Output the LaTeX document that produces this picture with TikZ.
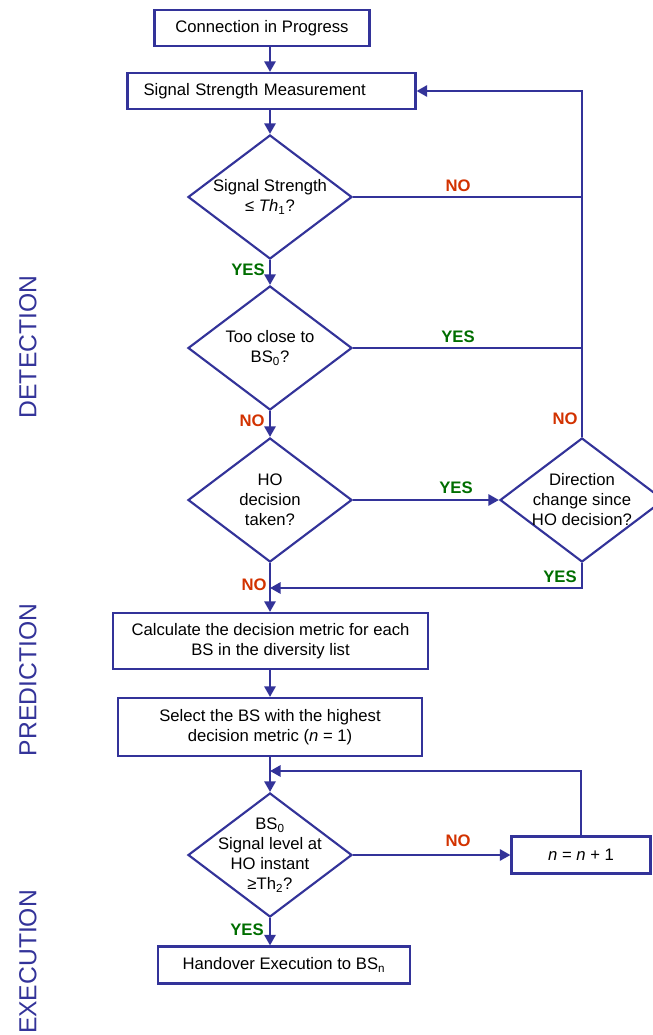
\documentclass[tikz,border=0pt]{standalone}
\usepackage{fontspec}
\setmainfont{Liberation Sans}
\usetikzlibrary{shapes.geometric,arrows.meta}
\definecolor{fblue}{RGB}{51,51,153}
\definecolor{fgreen}{RGB}{0,110,0}
\definecolor{fred}{RGB}{210,50,0}
\begin{document}
\begin{tikzpicture}[x=0.75pt,y=-0.75pt,
        font=\fontsize{12.5}{15}\selectfont,
        line/.style={draw=fblue, line width=1.7pt},
        arr/.style={line, -{Triangle[length=8pt,width=8.5pt]}},
        box/.style={draw=fblue, line width=1.6pt, align=center, inner sep=0pt, minimum height=27pt},
        decision/.style={draw=fblue, line width=1.6pt, diamond, inner sep=0pt, minimum width=123pt, minimum height=93pt},
        dtext/.style={align=center, inner sep=0pt},
        yes/.style={text=fgreen, font=\fontsize{12.5}{15}\selectfont\bfseries},
        no/.style={text=fred, font=\fontsize{12.5}{15}\selectfont\bfseries},
        phase/.style={text=fblue, rotate=90, font=\fontsize{18.5}{20}\selectfont}]
        \useasboundingbox (0,0) rectangle (653,1035);

        \coordinate (col) at (270,0); % main column
        \coordinate (rx) at (582,0); % return line on the right

        % detection
        \node[box, minimum width=161.25pt] (conn) at (262,28) {Connection in Progress};
        \node[box, minimum width=216pt, text width=192pt, inner xsep=12pt, align=left] (meas) at (271.5,91) {Signal Strength Measurement};
        \node[decision, label={[dtext]center:{Signal Strength\\≤ \textit{Th}\textsubscript{1}?}}] (sig) at (270,197) {};
        \node[decision, label={[dtext]center:{Too close to\\BS\textsubscript{0}?}}] (close) at (270,348) {};
        \node[decision, label={[dtext]center:{HO\\decision\\taken?}}] (taken) at (270,500) {};
        \node[decision, label={[dtext]center:{Direction\\change since\\HO decision?}}] (dir) at (582,500) {};

        % prediction
        \node[box, minimum width=236.25pt, minimum height=42pt] (calc) at (270.5,641) {Calculate the decision metric for each\\BS in the diversity list};
        \node[box, minimum width=228pt, minimum height=43.5pt] (sel) at (270,727) {Select the BS with the highest\\decision metric (\textit{n} = 1)};

        % execution
        \node[decision, label={[dtext]center:{BS\textsubscript{0}\\Signal level at\\HO instant\\≥Th\textsubscript{2}?}}] (lvl) at (270,855) {};
        \node[box, minimum width=104.25pt, minimum height=27.75pt] (inc) at (581,855) {\textit{n} = \textit{n} + 1};
        \node[box, minimum width=189pt, minimum height=27.75pt] (hoex) at (284,965) {Handover Execution to BS\textsubscript{n}};

        \coordinate (m1) at (270,588); % merge after direction check
        \coordinate (m2) at (270,771); % merge of n loop

        \draw[arr] (conn.south -| col) -- (meas.north -| col);
        \draw[arr] (meas.south -| col) -- (sig.north);
        \draw[arr] (sig.south) -- (close.north);
        \draw[arr] (close.south) -- (taken.north);
        \draw[arr] (taken.south) -- (calc.north -| col);
        \draw[line] (sig.east) -- (sig.east -| rx);
        \draw[line] (close.east) -- (close.east -| rx);
        \draw[arr] (dir.north) -- (dir.north |- meas.east) -- (meas.east);
        \draw[arr] (taken.east) -- (dir.west);
        \draw[arr] (dir.south) |- (m1);
        \draw[arr] (calc.south -| col) -- (sel.north -| col);
        \draw[arr] (sel.south -| col) -- (lvl.north);
        \draw[arr] (lvl.east) -- (inc.west);
        \draw[arr] (inc.north) |- (m2);
        \draw[arr] (lvl.south) -- (lvl.south |- hoex.north);

        \node[no] (l1) at (458,186) {NO};
        \node[yes] (l2) at (248,270) {YES};
        \node[yes] (l3) at (458,337) {YES};
        \node[no] (l4) at (252,421) {NO};
        \node[no] (l5) at (565,419) {NO};
        \node[yes] (l6) at (456,488) {YES};
        \node[yes] (l7) at (560,577) {YES};
        \node[no] (l8) at (254,585) {NO};
        \node[no] (l9) at (458,841) {NO};
        \node[yes] (l10) at (247,930) {YES};

        \node[phase] (pdet) at (28,347) {DETECTION};
        \node[phase] (ppre) at (28,680) {PREDICTION};
        \node[phase] (pexe) at (28,962) {EXECUTION};
    \end{tikzpicture}
\end{document}
